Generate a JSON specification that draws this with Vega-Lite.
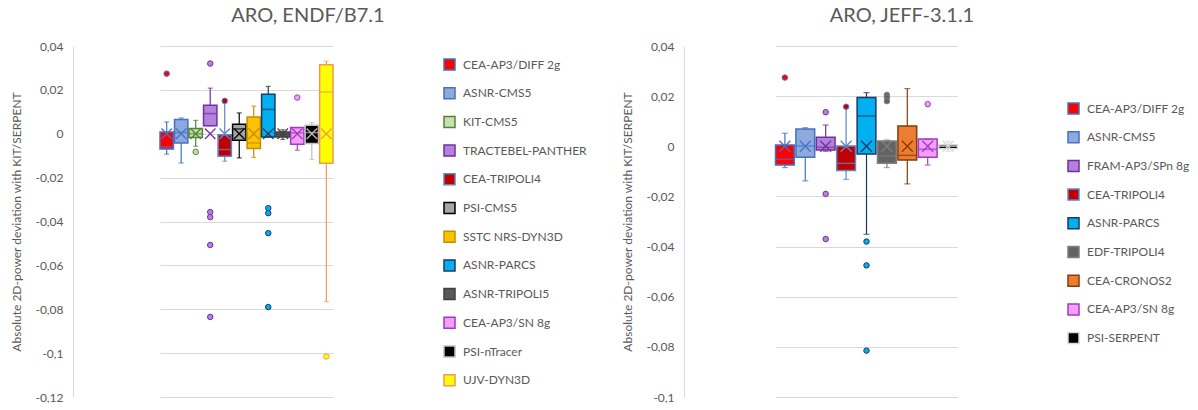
{
  "$schema": "https://vega.github.io/schema/vega-lite/v6.json",
  "background": "white",
  "padding": {"left": 10, "top": 6, "right": 0, "bottom": 0},
  "spacing": 34,
  "config": {
    "locale": {"number": {"decimal": ",", "thousands": " ", "grouping": [3], "currency": ["", " €"], "minus": "-"}},
    "view": {"stroke": null},
    "title": {"font": "Lato", "fontSize": 20, "fontWeight": "normal", "color": "#595959", "anchor": "middle", "frame": "bounds", "offset": 14},
    "axis": {"labelFont": "Lato", "labelFontSize": 12, "labelColor": "#595959", "titleFont": "Lato", "titleFontSize": 12, "titleColor": "#595959", "titleFontWeight": "normal", "gridColor": "#D9D9D9", "domainColor": "#D9D9D9", "ticks": false, "labelPadding": 10, "titlePadding": 11},
    "legend": {"labelFont": "Lato", "labelFontSize": 12, "labelColor": "#595959", "symbolType": "square", "symbolSize": 121, "symbolStrokeWidth": 1.5, "rowPadding": 11.7, "labelOffset": 7, "padding": 0, "direction": "vertical", "title": null}
  },
  "datasets": {
    "leftBoxes": [
      {"model": "CEA-AP3/DIFF 2g", "lo": -0.0093, "q1": -0.007, "med": -0.006, "q3": 0.0008, "hi": 0.0054, "mean": 0},
      {"model": "ASNR-CMS5", "lo": -0.0133, "q1": -0.0042, "med": 0.0005, "q3": 0.0065, "hi": 0.0072, "mean": 0},
      {"model": "KIT-CMS5", "lo": -0.0057, "q1": -0.0017, "med": 0.0, "q3": 0.0024, "hi": 0.0061, "mean": 0},
      {"model": "TRACTEBEL-PANTHER", "lo": 0.0037, "q1": 0.0037, "med": 0.0092, "q3": 0.013, "hi": 0.0208, "mean": 0},
      {"model": "CEA-TRIPOLI4", "lo": -0.0125, "q1": -0.0102, "med": -0.0072, "q3": -0.0004, "hi": 0.014, "mean": 0},
      {"model": "PSI-CMS5", "lo": -0.011, "q1": -0.003, "med": 0.0022, "q3": 0.0043, "hi": 0.0095, "mean": 0},
      {"model": "SSTC NRS-DYN3D", "lo": -0.0108, "q1": -0.0067, "med": -0.0042, "q3": 0.0076, "hi": 0.0126, "mean": 0},
      {"model": "ASNR-PARCS", "lo": -0.0015, "q1": -0.0015, "med": 0.0111, "q3": 0.018, "hi": 0.0216, "mean": 0},
      {"model": "ASNR-TRIPOLI5", "lo": -0.0026, "q1": -0.0015, "med": -0.0003, "q3": 0.0008, "hi": 0.0018, "mean": 0},
      {"model": "CEA-AP3/SN 8g", "lo": -0.0075, "q1": -0.0048, "med": 0.0004, "q3": 0.0028, "hi": 0.0028, "mean": 0},
      {"model": "PSI-nTracer", "lo": -0.0117, "q1": -0.0045, "med": 0.0005, "q3": 0.0039, "hi": 0.0051, "mean": 0},
      {"model": "UJV-DYN3D", "lo": -0.0765, "q1": -0.0135, "med": 0.019, "q3": 0.0315, "hi": 0.0331, "mean": 0}
    ],
    "leftOut": [
      {"model": "CEA-AP3/DIFF 2g", "value": 0.0274},
      {"model": "KIT-CMS5", "value": -0.0083},
      {"model": "TRACTEBEL-PANTHER", "value": 0.032},
      {"model": "TRACTEBEL-PANTHER", "value": -0.0357},
      {"model": "TRACTEBEL-PANTHER", "value": -0.038},
      {"model": "TRACTEBEL-PANTHER", "value": -0.0507},
      {"model": "TRACTEBEL-PANTHER", "value": -0.0835},
      {"model": "CEA-TRIPOLI4", "value": 0.015},
      {"model": "ASNR-PARCS", "value": -0.0339},
      {"model": "ASNR-PARCS", "value": -0.0362},
      {"model": "ASNR-PARCS", "value": -0.0453},
      {"model": "ASNR-PARCS", "value": -0.079},
      {"model": "CEA-AP3/SN 8g", "value": 0.0165},
      {"model": "UJV-DYN3D", "value": -0.1015}
    ],
    "rightBoxes": [
      {"model": "CEA-AP3/DIFF 2g", "lo": -0.0085, "q1": -0.0075, "med": -0.0052, "q3": 0.0005, "hi": 0.0052, "mean": 0},
      {"model": "ASNR-CMS5", "lo": -0.0138, "q1": -0.0044, "med": 0.0001, "q3": 0.0069, "hi": 0.0074, "mean": 0},
      {"model": "FRAM-AP3/SPn 8g", "lo": -0.002, "q1": -0.0015, "med": -0.0004, "q3": 0.0036, "hi": 0.0085, "mean": 0},
      {"model": "CEA-TRIPOLI4", "lo": -0.0132, "q1": -0.0097, "med": -0.0068, "q3": 0.0001, "hi": 0.0152, "mean": 0},
      {"model": "ASNR-PARCS", "lo": -0.0351, "q1": -0.0031, "med": 0.0121, "q3": 0.0195, "hi": 0.0214, "mean": 0},
      {"model": "EDF-TRIPOLI4", "lo": -0.0085, "q1": -0.0068, "med": -0.0039, "q3": 0.0021, "hi": 0.0025, "mean": 0},
      {"model": "CEA-CRONOS2", "lo": -0.015, "q1": -0.0055, "med": -0.0036, "q3": 0.0081, "hi": 0.023, "mean": 0},
      {"model": "CEA-AP3/SN 8g", "lo": -0.0075, "q1": -0.0044, "med": -0.0012, "q3": 0.0029, "hi": 0.0029, "mean": 0},
      {"model": "PSI-SERPENT", "lo": -0.002, "q1": -0.001, "med": 0.0, "q3": 0.0006, "hi": 0.002, "mean": 0}
    ],
    "rightOut": [
      {"model": "CEA-AP3/DIFF 2g", "value": 0.0274},
      {"model": "FRAM-AP3/SPn 8g", "value": 0.0136},
      {"model": "FRAM-AP3/SPn 8g", "value": -0.019},
      {"model": "FRAM-AP3/SPn 8g", "value": -0.037},
      {"model": "CEA-TRIPOLI4", "value": 0.0158},
      {"model": "ASNR-PARCS", "value": -0.038},
      {"model": "ASNR-PARCS", "value": -0.0475},
      {"model": "ASNR-PARCS", "value": -0.0815},
      {"model": "EDF-TRIPOLI4", "value": 0.0205},
      {"model": "EDF-TRIPOLI4", "value": 0.0195},
      {"model": "EDF-TRIPOLI4", "value": 0.018},
      {"model": "CEA-AP3/SN 8g", "value": 0.0168}
    ]
  },
  "resolve": {
    "scale": {"x": "independent", "y": "independent", "fill": "independent", "stroke": "independent", "color": "independent"},
    "legend": {"fill": "independent", "stroke": "independent"}
  },
  "hconcat": [
    {
      "width": 347,
      "height": 351,
      "title": {"text": "ARO, ENDF/B7.1", "dx": 9},
      "layer": [
        {
          "data": {"name": "leftBoxes"},
          "mark": {"type": "bar", "strokeWidth": 1.5},
          "encoding": {
            "x": {"field": "model", "type": "nominal", "sort": null, "axis": null, "scale": {"domain": ["CEA-AP3/DIFF 2g", "ASNR-CMS5", "KIT-CMS5", "TRACTEBEL-PANTHER", "CEA-TRIPOLI4", "PSI-CMS5", "SSTC NRS-DYN3D", "ASNR-PARCS", "ASNR-TRIPOLI5", "CEA-AP3/SN 8g", "PSI-nTracer", "UJV-DYN3D"], "paddingInner": 0.08, "paddingOuter": 0, "range": [87, 260]}},
            "y": {"field": "q1", "type": "quantitative", "title": "Absolute 2D-power deviation with KIT/SERPENT", "scale": {"domain": [-0.12, 0.04], "nice": false, "zero": false}, "axis": {"values": [-0.12, -0.1, -0.08, -0.06, -0.04, -0.02, 0, 0.02, 0.04], "format": ".2~f"}},
            "y2": {"field": "q3"},
            "fill": {"field": "model", "type": "nominal", "scale": {"domain": ["CEA-AP3/DIFF 2g", "ASNR-CMS5", "KIT-CMS5", "TRACTEBEL-PANTHER", "CEA-TRIPOLI4", "PSI-CMS5", "SSTC NRS-DYN3D", "ASNR-PARCS", "ASNR-TRIPOLI5", "CEA-AP3/SN 8g", "PSI-nTracer", "UJV-DYN3D"], "range": ["#FF0000", "#8EA9DB", "#C6E0B4", "#B482DC", "#C00000", "#A5A5A5", "#FFC000", "#00B0F0", "#595959", "#F79CF7", "#000000", "#FFFF00"]}, "legend": {"orient": "none", "legendX": 370, "legendY": 12}},
            "stroke": {"field": "model", "type": "nominal", "scale": {"domain": ["CEA-AP3/DIFF 2g", "ASNR-CMS5", "KIT-CMS5", "TRACTEBEL-PANTHER", "CEA-TRIPOLI4", "PSI-CMS5", "SSTC NRS-DYN3D", "ASNR-PARCS", "ASNR-TRIPOLI5", "CEA-AP3/SN 8g", "PSI-nTracer", "UJV-DYN3D"], "range": ["#4472C4", "#4472C4", "#548235", "#7030A0", "#5B86CC", "#000000", "#BF9000", "#1F3864", "#404040", "#9B3DC8", "#BFBFBF", "#F29A52"]}, "legend": {"orient": "none", "legendX": 370, "legendY": 12}}
          }
        },
        {
          "data": {"name": "leftBoxes"},
          "mark": {"type": "rule", "strokeWidth": 1.2},
          "encoding": {
            "x": {"field": "model", "type": "nominal", "sort": null},
            "y": {"field": "lo", "type": "quantitative", "title": "Absolute 2D-power deviation with KIT/SERPENT"},
            "y2": {"field": "q1"},
            "stroke": {"field": "model", "type": "nominal"}
          }
        },
        {
          "data": {"name": "leftBoxes"},
          "mark": {"type": "rule", "strokeWidth": 1.2},
          "encoding": {
            "x": {"field": "model", "type": "nominal", "sort": null},
            "y": {"field": "q3", "type": "quantitative", "title": "Absolute 2D-power deviation with KIT/SERPENT"},
            "y2": {"field": "hi"},
            "stroke": {"field": "model", "type": "nominal"}
          }
        },
        {
          "data": {"name": "leftBoxes"},
          "mark": {"type": "tick", "size": 5, "thickness": 1.2},
          "encoding": {
            "x": {"field": "model", "type": "nominal", "sort": null},
            "y": {"field": "lo", "type": "quantitative", "title": "Absolute 2D-power deviation with KIT/SERPENT"},
            "color": {"field": "model", "type": "nominal", "legend": null, "scale": {"domain": ["CEA-AP3/DIFF 2g", "ASNR-CMS5", "KIT-CMS5", "TRACTEBEL-PANTHER", "CEA-TRIPOLI4", "PSI-CMS5", "SSTC NRS-DYN3D", "ASNR-PARCS", "ASNR-TRIPOLI5", "CEA-AP3/SN 8g", "PSI-nTracer", "UJV-DYN3D"], "range": ["#4472C4", "#4472C4", "#548235", "#7030A0", "#5B86CC", "#000000", "#BF9000", "#1F3864", "#404040", "#9B3DC8", "#BFBFBF", "#F29A52"]}}
          }
        },
        {
          "data": {"name": "leftBoxes"},
          "mark": {"type": "tick", "size": 5, "thickness": 1.2},
          "encoding": {
            "x": {"field": "model", "type": "nominal", "sort": null},
            "y": {"field": "hi", "type": "quantitative", "title": "Absolute 2D-power deviation with KIT/SERPENT"},
            "color": {"field": "model", "type": "nominal", "legend": null}
          }
        },
        {
          "data": {"name": "leftBoxes"},
          "mark": {"type": "tick", "size": 13, "thickness": 1.5},
          "encoding": {
            "x": {"field": "model", "type": "nominal", "sort": null},
            "y": {"field": "med", "type": "quantitative", "title": "Absolute 2D-power deviation with KIT/SERPENT"},
            "color": {"field": "model", "type": "nominal", "legend": null}
          }
        },
        {
          "data": {"name": "leftBoxes"},
          "mark": {"type": "point", "shape": "M-1,-1L1,1M-1,1L1,-1", "size": 110, "strokeWidth": 1.3, "filled": false, "opacity": 1},
          "encoding": {
            "x": {"field": "model", "type": "nominal", "sort": null},
            "y": {"field": "mean", "type": "quantitative", "title": "Absolute 2D-power deviation with KIT/SERPENT"},
            "stroke": {"field": "model", "type": "nominal"}
          }
        },
        {
          "data": {"name": "leftOut"},
          "mark": {"type": "point", "shape": "circle", "size": 30, "strokeWidth": 1, "filled": true, "opacity": 1},
          "encoding": {
            "x": {"field": "model", "type": "nominal", "sort": null},
            "y": {"field": "value", "type": "quantitative", "title": "Absolute 2D-power deviation with KIT/SERPENT"},
            "fill": {"field": "model", "type": "nominal"},
            "stroke": {"field": "model", "type": "nominal"}
          }
        }
      ]
    },
    {
      "width": 365,
      "height": 351,
      "title": {"text": "ARO, JEFF-3.1.1", "dx": -4},
      "layer": [
        {
          "data": {"name": "rightBoxes"},
          "mark": {"type": "bar", "strokeWidth": 1.5},
          "encoding": {
            "x": {"field": "model", "type": "nominal", "sort": null, "axis": null, "scale": {"domain": ["CEA-AP3/DIFF 2g", "ASNR-CMS5", "FRAM-AP3/SPn 8g", "CEA-TRIPOLI4", "ASNR-PARCS", "EDF-TRIPOLI4", "CEA-CRONOS2", "CEA-AP3/SN 8g", "PSI-SERPENT"], "paddingInner": 0.08, "paddingOuter": 0, "range": [91.5, 273.5]}},
            "y": {"field": "q1", "type": "quantitative", "title": "Absolute 2D-power deviation with KIT/SERPENT", "scale": {"domain": [-0.1, 0.04], "nice": false, "zero": false}, "axis": {"values": [-0.1, -0.08, -0.06, -0.04, -0.02, 0, 0.02, 0.04], "format": ".2~f"}},
            "y2": {"field": "q3"},
            "fill": {"field": "model", "type": "nominal", "scale": {"domain": ["CEA-AP3/DIFF 2g", "ASNR-CMS5", "FRAM-AP3/SPn 8g", "CEA-TRIPOLI4", "ASNR-PARCS", "EDF-TRIPOLI4", "CEA-CRONOS2", "CEA-AP3/SN 8g", "PSI-SERPENT"], "range": ["#FF0000", "#8EA9DB", "#B482DC", "#C00000", "#00B0F0", "#636363", "#ED7D31", "#F79CF7", "#000000"]}, "legend": {"orient": "none", "legendX": 383, "legendY": 56}},
            "stroke": {"field": "model", "type": "nominal", "scale": {"domain": ["CEA-AP3/DIFF 2g", "ASNR-CMS5", "FRAM-AP3/SPn 8g", "CEA-TRIPOLI4", "ASNR-PARCS", "EDF-TRIPOLI4", "CEA-CRONOS2", "CEA-AP3/SN 8g", "PSI-SERPENT"], "range": ["#4472C4", "#4472C4", "#7030A0", "#5B86CC", "#1F3864", "#7F7F7F", "#843C0C", "#9B3DC8", "#D9D9D9"]}, "legend": {"orient": "none", "legendX": 383, "legendY": 56}}
          }
        },
        {
          "data": {"name": "rightBoxes"},
          "mark": {"type": "rule", "strokeWidth": 1.2},
          "encoding": {
            "x": {"field": "model", "type": "nominal", "sort": null},
            "y": {"field": "lo", "type": "quantitative", "title": "Absolute 2D-power deviation with KIT/SERPENT"},
            "y2": {"field": "q1"},
            "stroke": {"field": "model", "type": "nominal"}
          }
        },
        {
          "data": {"name": "rightBoxes"},
          "mark": {"type": "rule", "strokeWidth": 1.2},
          "encoding": {
            "x": {"field": "model", "type": "nominal", "sort": null},
            "y": {"field": "q3", "type": "quantitative", "title": "Absolute 2D-power deviation with KIT/SERPENT"},
            "y2": {"field": "hi"},
            "stroke": {"field": "model", "type": "nominal"}
          }
        },
        {
          "data": {"name": "rightBoxes"},
          "mark": {"type": "tick", "size": 6, "thickness": 1.2},
          "encoding": {
            "x": {"field": "model", "type": "nominal", "sort": null},
            "y": {"field": "lo", "type": "quantitative", "title": "Absolute 2D-power deviation with KIT/SERPENT"},
            "color": {"field": "model", "type": "nominal", "legend": null, "scale": {"domain": ["CEA-AP3/DIFF 2g", "ASNR-CMS5", "FRAM-AP3/SPn 8g", "CEA-TRIPOLI4", "ASNR-PARCS", "EDF-TRIPOLI4", "CEA-CRONOS2", "CEA-AP3/SN 8g", "PSI-SERPENT"], "range": ["#4472C4", "#4472C4", "#7030A0", "#5B86CC", "#1F3864", "#7F7F7F", "#843C0C", "#9B3DC8", "#D9D9D9"]}}
          }
        },
        {
          "data": {"name": "rightBoxes"},
          "mark": {"type": "tick", "size": 6, "thickness": 1.2},
          "encoding": {
            "x": {"field": "model", "type": "nominal", "sort": null},
            "y": {"field": "hi", "type": "quantitative", "title": "Absolute 2D-power deviation with KIT/SERPENT"},
            "color": {"field": "model", "type": "nominal", "legend": null}
          }
        },
        {
          "data": {"name": "rightBoxes"},
          "mark": {"type": "tick", "size": 18, "thickness": 1.5},
          "encoding": {
            "x": {"field": "model", "type": "nominal", "sort": null},
            "y": {"field": "med", "type": "quantitative", "title": "Absolute 2D-power deviation with KIT/SERPENT"},
            "color": {"field": "model", "type": "nominal", "legend": null}
          }
        },
        {
          "data": {"name": "rightBoxes"},
          "mark": {"type": "point", "shape": "M-1,-1L1,1M-1,1L1,-1", "size": 120, "strokeWidth": 1.3, "filled": false, "opacity": 1},
          "encoding": {
            "x": {"field": "model", "type": "nominal", "sort": null},
            "y": {"field": "mean", "type": "quantitative", "title": "Absolute 2D-power deviation with KIT/SERPENT"},
            "stroke": {"field": "model", "type": "nominal"}
          }
        },
        {
          "data": {"name": "rightOut"},
          "mark": {"type": "point", "shape": "circle", "size": 30, "strokeWidth": 1, "filled": true, "opacity": 1},
          "encoding": {
            "x": {"field": "model", "type": "nominal", "sort": null},
            "y": {"field": "value", "type": "quantitative", "title": "Absolute 2D-power deviation with KIT/SERPENT"},
            "fill": {"field": "model", "type": "nominal"},
            "stroke": {"field": "model", "type": "nominal"}
          }
        }
      ]
    }
  ]
}
